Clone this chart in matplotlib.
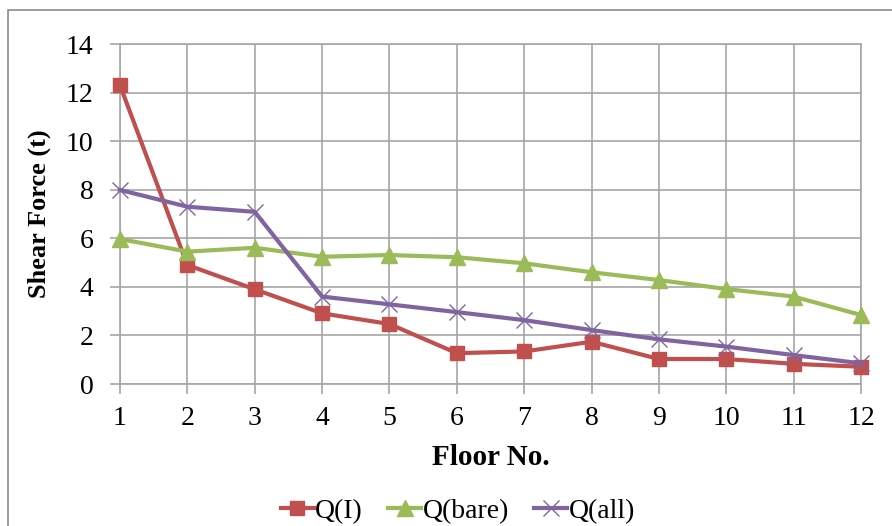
import matplotlib.pyplot as plt
from matplotlib.patches import Rectangle

# valeurs
floors = [1, 2, 3, 4, 5, 6, 7, 8, 9, 10, 11, 12]
q_i = [12.3, 4.9, 3.9, 2.91, 2.47, 1.27, 1.34, 1.74, 1.03, 1.03, 0.83, 0.71]
q_bare = [5.97, 5.45, 5.61, 5.24, 5.31, 5.22, 4.97, 4.6, 4.28, 3.91, 3.6, 2.84]
q_all = [7.99, 7.3, 7.09, 3.6, 3.28, 2.96, 2.63, 2.22, 1.84, 1.54, 1.19, 0.85]
yticks = [0, 2, 4, 6, 8, 10, 12, 14]

plt.rcParams['font.family'] = ['Liberation Serif', 'DejaVu Serif']

fig = plt.figure(figsize=(8.92, 5.26), dpi=100)
ax = fig.add_axes([120 / 892, 1 - 384 / 526, (861 - 120) / 892, (384 - 44) / 526])

# cadre extérieur
fig.patches.append(Rectangle((8 / 892, -0.1), 1.2, 1 - 10 / 526 + 0.1, transform=fig.transFigure,
                             fill=False, edgecolor='#8c8c8c', linewidth=1.2))

grille = '#a6a6a6'
ax.plot(floors, q_i, color='#C0504D', linewidth=3, marker='s', markersize=10,
        label='Q(I)', clip_on=False, zorder=3)
ax.plot(floors, q_bare, color='#9BBB59', linewidth=3, marker='^', markersize=11,
        label='Q(bare)', clip_on=False, zorder=3)
ax.plot(floors, q_all, color='#8064A2', linewidth=3, marker='x', markersize=11,
        markeredgewidth=1, label='Q(all)', clip_on=False, zorder=4)

ax.set_xlim(1, 12)
ax.set_ylim(0, 14)
ax.set_xticks(floors)
ax.set_yticks(yticks)
ax.grid(True, color=grille, linewidth=1.2)
ax.set_axisbelow(True)
for s in ax.spines.values():
    s.set_color(grille)
    s.set_linewidth(1.2)
ax.tick_params(axis='both', labelsize=20, color=grille, length=7, width=1.2)
ax.tick_params(axis='y', pad=12)
ax.tick_params(axis='x', pad=9)

ax.set_xlabel('Floor No.', fontsize=21, fontweight='bold', labelpad=9)
ax.set_ylabel('Shear Force (t)', fontsize=19, fontweight='bold', labelpad=11)

ax.legend(loc='center', bbox_to_anchor=(0.456, -0.375), ncol=3, frameon=False, fontsize=20,
          handlelength=1.2, handletextpad=0.05, columnspacing=0.9)

fig.savefig('out.png', dpi=100)
